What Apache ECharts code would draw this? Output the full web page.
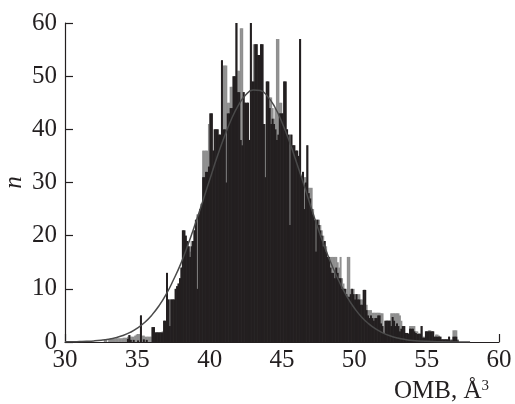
<!DOCTYPE html>
<html>
<head>
<meta charset="utf-8">
<script src="https://cdn.jsdelivr.net/npm/echarts@6/dist/echarts.min.js"></script>
<style>
html,body{margin:0;padding:0;background:#fff;}
#chart{width:515px;height:404px;}
</style>
</head>
<body>
<div id="chart"></div>
<script>
// Histogram bins: start 32.5 Å³, width 0.1 Å³
var binStart = 32.5;
var binWidth = 0.1;

// black (front) histogram counts, 10 bins per row
var blackCounts = [
  0,0,0,0,0,0,0,0,0,0,               // 32.5-33.4
  0,0,0,0,0,0,0,0,0.6,1.3,           // 33.5-34.4
  0.4,0,0.4,0,0,0.3,0,5,0,0.5,       // 34.5-35.4
  0,0.4,0,0,0,2.8,2.8,1.8,1.8,1.8,   // 35.5-36.4
  1.8,1.8,1.8,4,4,13,8,3,8,8,        // 36.5-37.4
  8,10,10.5,11,12,14,21,21,20,19,    // 37.5-38.4
  18,16,18,19,21,23,10,24,25,26,     // 38.5-39.4
  31,31,32,32,33,43,43,36,40,40,     // 39.5-40.4
  40,39,39,53,40,40,30,43,43,44,     // 40.5-41.4
  44,50,50,60,47,47,38,37,47,45,     // 41.5-42.4
  45,45,38,60,49,49,56,56,54,54,     // 42.5-43.4
  56,56,41,31,49,49,44,41,42,41,     // 43.5-44.4
  40,38,39,43,43,43,49,49,40,39,     // 44.5-45.4
  22,39,37,37,36,36,35,57,31,32,     // 45.5-46.4
  25,30,37,28,27,25,24,23,17,23,     // 46.5-47.4
  22,21,20,18,19,17,16,16,14,13,     // 47.5-48.4
  13,12,14,13,12,12,10,10,10,9,      // 48.5-49.4
  8.5,8.5,9,10,9,8,9,8,8,7,          // 49.5-50.4
  7,9.8,9.8,6,5,4.5,5,4.5,4,4.5,     // 50.5-51.4
  4.5,5,5,3.5,3,1.7,4,4,4,4,         // 51.5-52.4
  3,4.7,4,3,3.5,3,2,2.5,3,3,         // 52.5-53.4
  1.7,1.7,1.5,2.5,2.5,2.5,2,1.7,1.5,1.5, // 53.5-54.4
  1.5,3,0.8,0.8,2,2,2,2,2,2,         // 54.5-55.4
  1,1,1,1,1,0.5,0.5,0.5,0.5,0.5,     // 55.5-56.4
  1,0.3,0.3,1,1,1,0.3,0,0,0          // 56.5-57.4
];

// grey (back) histogram counts, same bins
var greyCounts = [
  0,0,0.5,0.5,0,0.4,0.6,0.6,0.6,0.6,
  0.7,0.7,0.7,0.7,0.7,0.8,0.8,0.8,1,1.3,
  1,1,1,1.2,1.4,1.5,1.5,5,1.2,1.2,
  1,1,1,1,1,2.8,2.8,1.8,1.8,1.8,
  1.8,1.8,2,4,4,13,8,8,8,8,
  8,10,10.5,11,12,14,21,21,20,19,
  18,17,19,19,21,23,24,24,25,26,
  36,36,36,36,41,43,43,36,40,40,
  40,39,39,53,52,52,52,45,45,48,
  48,50,50,60,51,51,59,59,47,45,
  45,45,38,60,49,56,56,56,54,54,
  56,56,41,41,49,49,46,46,44,42,
  44,57,57,45,45,43,49,49,40,39,
  39,39,37,37,36,36,35,57,31,32,
  31,31,37,29,29,29,25,23,23,23,
  23,22,21,20,19,18,16,16,16,16,
  16,16,16,15,14,16,12,11,10,10,
  16,16,10,10,10,9,9,9,9,8,
  8,9.8,9.8,7,6,6,6,5.5,5.5,5.5,
  5.5,5.5,5.5,5.4,5.4,1.7,4,4,4,4,
  5.4,5.4,5.4,5.4,5.4,5.4,5,4,3,3,
  1.7,1.7,1.7,3,3,3,3,2,2,1.7,
  1.7,3,1,1,2,2,2.2,2.2,2,2,
  1,1.4,1.4,1.2,1,0.5,0.5,0.5,0.5,0.5,
  1,0.5,0.5,2.2,2.2,2.2,0.5,0,0,0
];

// fitted distribution curve
var curveX = [30,30.5,31,31.5,32,32.5,33,33.5,34,34.5,35,35.5,36,36.5,37,37.5,38,38.5,39,39.5,40,40.5,41,41.5,42,42.5,43,43.5,44,44.5,45,45.5,46,46.5,47,47.5,48,48.5,49,49.5,50,50.5,51,51.5,52,52.5,53,53.5,54,55,56,57,58];
var curveY = [0.03,0.04,0.08,0.13,0.21,0.34,0.53,0.81,1.22,1.8,2.59,3.66,5.05,6.81,9.0,11.7,14.7,18.3,22.2,26.3,30.5,34.7,38.5,41.9,44.6,46.5,47.4,47.3,46.2,44.2,41.3,37.8,33.8,29.7,25.4,21.3,17.5,14.1,11.1,8.5,6.4,4.7,3.4,2.4,1.67,1.13,0.75,0.48,0.3,0.12,0.04,0.01,0];

var xTicks = [30,35,40,45,50,55,60];
var yTicks = [0,10,20,30,40,50,60];

function binData(arr){
  return arr.map(function(v,i){ return [+(binStart + (i+0.5)*binWidth).toFixed(3), v]; });
}
var curveData = curveX.map(function(x,i){ return [x, curveY[i]]; });

var ink = '#231f20';
var font = 'Liberation Serif, Times New Roman, serif';

var chart = echarts.init(document.getElementById('chart'), null, {renderer:'canvas'});
chart.setOption({
  animation:false,
  backgroundColor:'#ffffff',
  grid:{left:65,right:16,top:23,bottom:62,containLabel:false,outerBoundsMode:'none'},
  xAxis:{
    type:'value',min:xTicks[0],max:xTicks[xTicks.length-1],interval:5,
    name:'{a|OMB, Å}{s|3}',
    nameLocation:'end',nameGap:-10,nameMoveOverlap:false,
    nameTextStyle:{align:'right',verticalAlign:'top',padding:[37,0,0,0],
      rich:{a:{fontFamily:font,fontSize:25,color:ink},s:{fontFamily:font,fontSize:15,color:ink,verticalAlign:'top',padding:[0,0,10,0]}}},
    axisLine:{lineStyle:{color:ink,width:1.2}},
    axisTick:{show:true,inside:true,length:8,lineStyle:{color:ink,width:1.2}},
    axisLabel:{fontFamily:font,fontSize:25,color:ink,margin:6},
    splitLine:{show:false}
  },
  yAxis:{
    type:'value',min:yTicks[0],max:yTicks[yTicks.length-1],interval:10,
    name:'n',nameLocation:'middle',nameGap:38,nameRotate:90,nameMoveOverlap:false,
    nameTextStyle:{fontFamily:font,fontStyle:'italic',fontSize:25,color:ink},
    axisLine:{show:true,lineStyle:{color:ink,width:1.2}},
    axisTick:{show:true,inside:true,length:8,lineStyle:{color:ink,width:1.2}},
    axisLabel:{fontFamily:font,fontSize:25,color:ink,margin:8},
    splitLine:{show:false}
  },
  series:[
    {type:'bar',name:'grey',data:binData(greyCounts),barWidth:2,barGap:'-100%',
     itemStyle:{color:'#8f8f8f'},z:2,silent:true},
    {type:'bar',name:'black',data:binData(blackCounts),barWidth:2,barGap:'-100%',
     itemStyle:{color:ink},z:3,silent:true},
    {type:'line',name:'fit',data:curveData,smooth:true,showSymbol:false,
     lineStyle:{color:'#4a4a4a',width:1.5},z:4,silent:true}
  ]
});
</script>
</body>
</html>
